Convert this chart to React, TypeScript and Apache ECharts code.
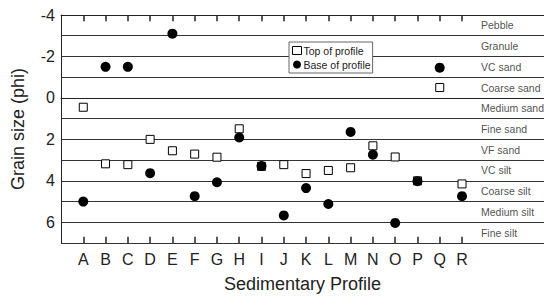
import React, { useEffect, useRef } from "react";
import * as echarts from "echarts";

const profiles = ["A","B","C","D","E","F","G","H","I","J","K","L","M","N","O","P","Q","R"];
const topOfProfile = [0.45, 3.18, 3.22, 2.0, 2.55, 2.71, 2.86, 1.49, 3.3, 3.22, 3.65, 3.5, 3.37, 2.31, 2.85, 4.0, -0.5, 4.15];
const baseOfProfile = [5.0, -1.5, -1.5, 3.63, -3.1, 4.74, 4.07, 1.91, 3.29, 5.67, 4.35, 5.12, 1.64, 2.74, 6.03, 4.02, -1.46, 4.74];
const grainClasses = ["Pebble","Granule","VC sand","Coarse sand","Medium sand","Fine sand","VF sand","VC silt","Coarse silt","Medium silt","Fine silt"];
const classBoundaries = [-4, -3, -2, -1, 0, 1, 2, 3, 4, 5, 6, 7];
const yTickLabels = [-4, -2, 0, 2, 4, 6];

const FONT = "Liberation Sans, Arial, sans-serif";

export default function App() {
  const ref = useRef<HTMLDivElement>(null);
  useEffect(() => {
    if (!ref.current) return;
    const chart = echarts.init(ref.current, null, { renderer: "svg" });
    const xPositions = profiles.map((_, i) => i + 1);
    const xMax = 21.68;
    const yMin = classBoundaries[0];
    const yMax = classBoundaries[classBoundaries.length - 1];
    const tickLen = 0.3;
    const classMid = grainClasses.map((c, i) => [18.85, (classBoundaries[i] + classBoundaries[i + 1]) / 2, c]);
    const tickSegments: any[] = [];
    xPositions.forEach((x) => {
      tickSegments.push([{ coord: [x, yMax] }, { coord: [x, yMax - tickLen] }]);
      tickSegments.push([{ coord: [x, yMin] }, { coord: [x, yMin + tickLen] }]);
    });
    chart.setOption({
      animation: false,
      textStyle: { fontFamily: FONT },
      grid: { left: 61, right: 0, top: 15, bottom: 49 },
      legend: {
        orient: "vertical",
        left: 289,
        top: 42,
        padding: [3, 2, 3, 3],
        itemGap: 3,
        itemWidth: 9,
        itemHeight: 8,
        backgroundColor: "#fff",
        borderColor: "#666",
        borderWidth: 1,
        textStyle: { fontSize: 10.5, color: "#222", fontFamily: FONT, padding: [0, 0, 0, -3] },
        data: [
          { name: "Top of profile", itemStyle: { color: "#fff", borderColor: "#000", borderWidth: 1 } },
          { name: "Base of profile", itemStyle: { color: "#000" } },
        ],
      },
      xAxis: [
        {
          type: "value",
          min: 0,
          max: xMax,
          position: "bottom",
          splitLine: { show: false },
          axisLine: { show: true, lineStyle: { color: "#222", width: 1 } },
          axisTick: { show: false },
          axisLabel: {
            customValues: xPositions,
            formatter: (v: number) => profiles[Math.round(v) - 1] ?? "",
            fontSize: 16,
            color: "#222",
            fontFamily: FONT,
            margin: 8,
          },
          name: "Sedimentary Profile",
          nameLocation: "middle",
          nameGap: 32,
          nameTextStyle: { fontSize: 18, color: "#222", fontFamily: FONT },
        },
        {
          type: "value",
          min: 0,
          max: xMax,
          position: "top",
          splitLine: { show: false },
          axisLine: { show: true, lineStyle: { color: "#222", width: 1 } },
          axisTick: { show: false },
          axisLabel: { show: false },
        },
      ],
      yAxis: {
        type: "value",
        inverse: true,
        min: yMin,
        max: yMax,
        interval: 1,
        axisLine: { show: true, lineStyle: { color: "#222", width: 1 } },
        axisTick: { show: false },
        splitLine: { show: true, lineStyle: { color: "#333", width: 1 } },
        axisLabel: {
          customValues: yTickLabels,
          fontSize: 16,
          color: "#222",
          fontFamily: FONT,
          margin: 6,
        },
        name: "Grain size (phi)",
        nameLocation: "middle",
        nameGap: 34,
        nameTextStyle: { fontSize: 18, color: "#222", fontFamily: FONT },
      },
      series: [
        {
          name: "Grain classes",
          type: "scatter",
          symbolSize: 0,
          silent: true,
          data: classMid,
          label: {
            show: true,
            position: "right",
            distance: 0,
            formatter: (p: any) => p.data[2],
            fontSize: 10.5,
            color: "#222",
            fontFamily: FONT,
          },
          markLine: {
            silent: true,
            symbol: ["none", "none"],
            label: { show: false },
            lineStyle: { color: "#222", width: 1.5, type: "solid" },
            data: tickSegments,
          },
          z: 1,
        },
        {
          name: "Top of profile",
          type: "scatter",
          symbol: "rect",
          symbolSize: 8,
          itemStyle: { color: "#fff", borderColor: "#000", borderWidth: 1, opacity: 1 },
          data: topOfProfile.map((v, i) => [i + 1, v]),
          z: 3,
        },
        {
          name: "Base of profile",
          type: "scatter",
          symbol: "circle",
          symbolSize: 10,
          itemStyle: { color: "#000", opacity: 1 },
          data: baseOfProfile.map((v, i) => [i + 1, v]),
          z: 4,
        },
      ],
    });
    return () => chart.dispose();
  }, []);
  return <div ref={ref} style={{ width: 544, height: 298, position: "absolute", left: 0, top: 0 }} />;
}
